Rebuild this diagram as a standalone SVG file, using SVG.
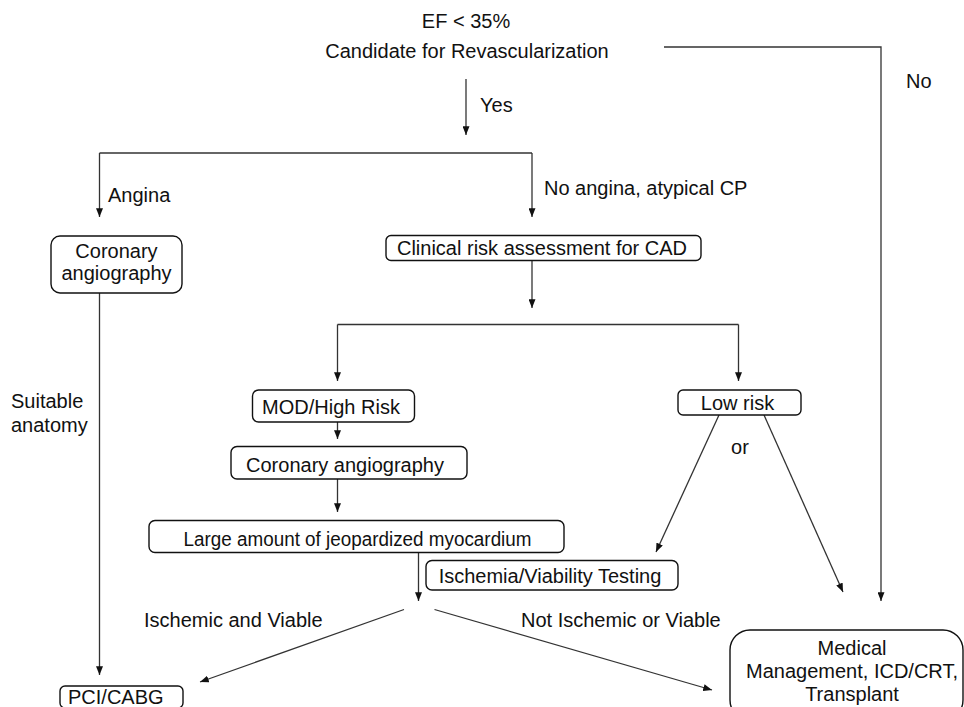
<svg xmlns="http://www.w3.org/2000/svg" width="964" height="707" viewBox="0 0 964 707">
<defs>
<marker id="ah" viewBox="0 0 10 8" refX="10" refY="4" markerWidth="9" markerHeight="7" markerUnits="userSpaceOnUse" orient="auto">
<path d="M0,0 L10,4 L0,8 z" fill="#111"/>
</marker>
<style>
text{font-family:"Liberation Sans",Arial,Helvetica,sans-serif;font-size:20px;fill:#111}
.c{text-anchor:middle}
.box{fill:#fff;stroke:#111;stroke-width:1.4}
.ln{fill:none;stroke:#333;stroke-width:1.3}
.ar{fill:none;stroke:#333;stroke-width:1.3;marker-end:url(#ah)}
</style>
</defs>
<rect width="964" height="707" fill="#fff"/>
<g id="connectors">
<polyline class="ar" points="664,47 881,47 881,601"/>
<line class="ar" x1="466" y1="79" x2="466" y2="135"/>
<polyline class="ln" points="99.5,153 532,153"/>
<line class="ar" x1="99.5" y1="153" x2="99.5" y2="217"/>
<line class="ar" x1="532" y1="153" x2="532" y2="217"/>
<line class="ar" x1="532" y1="260.5" x2="532" y2="308"/>
<polyline class="ln" points="337.5,324.5 738.5,324.5"/>
<line class="ar" x1="337.5" y1="324.5" x2="337.5" y2="381"/>
<line class="ar" x1="738.5" y1="324.5" x2="738.5" y2="381"/>
<line class="ar" x1="337.5" y1="422" x2="337.5" y2="439"/>
<line class="ar" x1="337.5" y1="479" x2="337.5" y2="512"/>
<line class="ar" x1="719" y1="415" x2="656" y2="552"/>
<line class="ar" x1="764" y1="415" x2="843" y2="592"/>
<line class="ar" x1="418.5" y1="552.5" x2="418.5" y2="601"/>
<line class="ar" x1="404" y1="609.5" x2="200" y2="682"/>
<line class="ar" x1="434.5" y1="609.5" x2="712" y2="690"/>
<line class="ar" x1="99.5" y1="292.5" x2="99.5" y2="675"/>
</g>
<g id="labels">
<text x="480" y="112">Yes</text>
<text x="906" y="88">No</text>
<text x="108" y="202">Angina</text>
<text x="544" y="195">No angina, atypical CP</text>
<text x="11" y="408">Suitable</text>
<text x="11" y="432">anatomy</text>
<text class="c" x="740" y="454">or</text>
<text x="144" y="627">Ischemic and Viable</text>
<text x="521" y="627">Not Ischemic or Viable</text>
</g>
<g id="start">
<text class="c" x="466" y="28">EF &lt; 35%</text>
<text class="c" x="467" y="58">Candidate for Revascularization</text>
</g>
<g id="cor1">
<rect class="box" x="51" y="236" width="131" height="57" rx="9"/>
<text class="c" x="116.5" y="258">Coronary</text>
<text class="c" x="116.5" y="280">angiography</text>
</g>
<g id="clinical">
<rect class="box" x="386" y="235.5" width="315" height="25" rx="5"/>
<text class="c" x="542" y="254.5">Clinical risk assessment for CAD</text>
</g>
<g id="modhigh">
<rect class="box" x="252.5" y="390" width="162" height="32" rx="6"/>
<text class="c" x="331" y="414">MOD/High Risk</text>
</g>
<g id="lowrisk">
<rect class="box" x="678" y="390" width="123" height="25" rx="5"/>
<text class="c" x="737.5" y="409.5">Low risk</text>
</g>
<g id="cor2">
<rect class="box" x="231" y="446.5" width="236" height="32.5" rx="6"/>
<text class="c" x="345" y="472">Coronary angiography</text>
</g>
<g id="large">
<rect class="box" x="149" y="520.5" width="415" height="32" rx="6"/>
<text class="c" x="357.5" y="545.5" textLength="348" lengthAdjust="spacingAndGlyphs">Large amount of jeopardized myocardium</text>
</g>
<g id="ischemia">
<rect class="box" x="426" y="560.5" width="252" height="29.5" rx="6"/>
<text class="c" x="550" y="582.5">Ischemia/Viability Testing</text>
</g>
<g id="pci">
<rect class="box" x="60" y="686" width="123" height="22" rx="5"/>
<text x="68" y="704">PCI/CABG</text>
</g>
<g id="medical">
<rect class="box" x="730" y="630" width="233" height="90" rx="20"/>
<text class="c" x="852" y="655">Medical</text>
<text class="c" x="852" y="678">Management, ICD/CRT,</text>
<text class="c" x="852" y="701">Transplant</text>
</g>
</svg>
